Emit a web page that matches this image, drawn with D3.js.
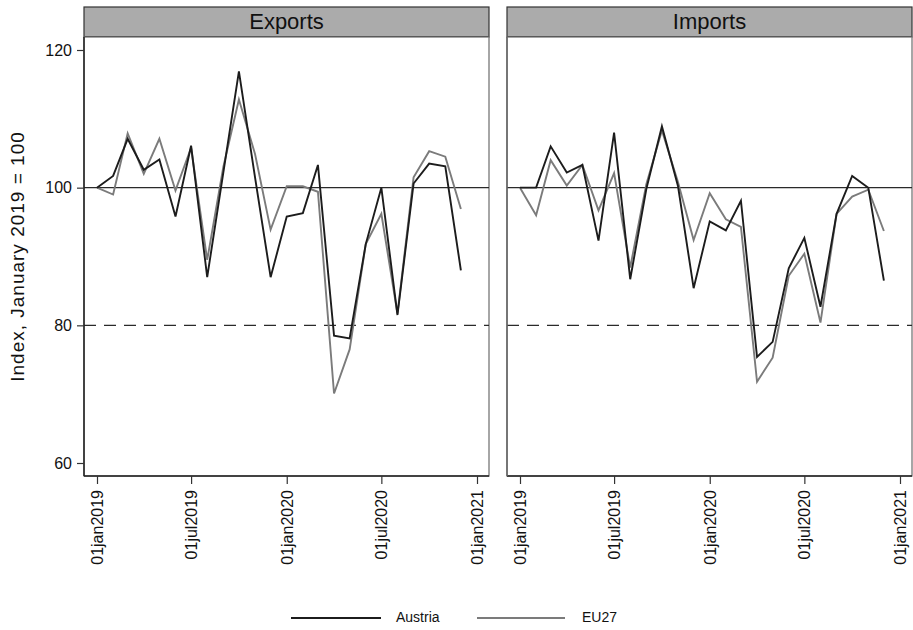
<!DOCTYPE html>
<html>
<head>
<meta charset="utf-8">
<script src="https://cdn.jsdelivr.net/npm/d3@7/dist/d3.min.js"></script>
<style>
  body { margin: 0; background: #fff; }
  svg { display: block; font-family: "Liberation Sans", Arial, sans-serif; }
</style>
</head>
<body>
<svg id="chart" width="913" height="630"></svg>
<script>
// ---------- DATA ----------
const months = ["2019-01","2019-02","2019-03","2019-04","2019-05","2019-06","2019-07","2019-08","2019-09","2019-10","2019-11","2019-12",
                "2020-01","2020-02","2020-03","2020-04","2020-05","2020-06","2020-07","2020-08","2020-09","2020-10","2020-11","2020-12"];
const panels = ["Exports", "Imports"];
const seriesNames = ["Austria", "EU27"];
const exportsAustria = [100, 101.7, 107.1, 102.6, 104.1, 95.8, 106.1, 87.0, 102.2, 116.9, 101.5, 87.0,
                        95.8, 96.3, 103.3, 78.5, 78.1, 91.8, 100.0, 81.5, 100.6, 103.5, 103.1, 88.0];
const exportsEU27    = [100, 99.0, 107.9, 102.0, 107.1, 99.6, 105.8, 89.5, 103.0, 112.8, 104.9, 93.9,
                        100.2, 100.2, 99.4, 70.1, 76.5, 91.8, 96.2, 81.7, 101.5, 105.3, 104.5, 96.9];
const importsAustria = [100, 100.0, 106.0, 102.2, 103.3, 92.3, 108.0, 86.7, 99.8, 108.9, 100.2, 85.4,
                        95.1, 93.8, 98.1, 75.4, 77.6, 88.3, 92.7, 82.7, 96.2, 101.7, 100.0, 86.5];
const importsEU27    = [100, 96.0, 104.0, 100.3, 103.3, 96.7, 102.1, 88.4, 100.5, 108.3, 100.8, 92.4,
                        99.2, 95.4, 94.3, 71.8, 75.3, 87.2, 90.4, 80.4, 96.2, 98.7, 99.7, 93.7];
const yTicks = [60, 80, 100, 120];
const xTickDates = ["2019-01-01", "2019-07-01", "2020-01-01", "2020-07-01", "2021-01-01"];
const xTickLabels = ["01jan2019", "01jul2019", "01jan2020", "01jul2020", "01jan2021"];
const refLines = [100, 80];
const yTitle = "Index, January 2019 = 100";

// ---------- LAYOUT ----------
const svg = d3.select("#chart");
const panelX = [84, 507];
const panelW = 405;
const headerTop = 7, plotTop = 37, plotBottom = 476;
const colors = { Austria: "#1c1c1c", EU27: "#7b7b7b" };

const parse = d3.timeParse("%Y-%m");
const parseDay = d3.timeParse("%Y-%m-%d");
const dates = months.map(parse);

const x = d3.scaleTime()
  .domain([parseDay("2019-01-01"), parseDay("2021-01-01")])
  .range([13, 393]);
const y = d3.scaleLinear()
  .domain([60, 120])
  .range([463, 50]);

const data = {
  Exports: { Austria: exportsAustria, EU27: exportsEU27 },
  Imports: { Austria: importsAustria, EU27: importsEU27 }
};

panels.forEach((name, pi) => {
  const g = svg.append("g").attr("transform", `translate(${panelX[pi]},0)`);

  // header strip
  g.append("rect")
    .attr("x", 0).attr("y", headerTop)
    .attr("width", panelW).attr("height", plotTop - headerTop)
    .attr("fill", "#ababab").attr("stroke", "#333").attr("stroke-width", 1.2);
  g.append("line")
    .attr("x1", 0).attr("x2", panelW).attr("y1", plotTop).attr("y2", plotTop)
    .attr("stroke", "#222").attr("stroke-width", 2);
  g.append("text")
    .attr("x", panelW / 2).attr("y", (headerTop + plotTop) / 2 + 1)
    .attr("text-anchor", "middle").attr("dominant-baseline", "middle")
    .attr("font-size", 22).attr("fill", "#111")
    .text(name);

  // plot region outline
  g.append("rect")
    .attr("x", 0).attr("y", plotTop)
    .attr("width", panelW).attr("height", plotBottom - plotTop)
    .attr("fill", "#fff").attr("stroke", "#777").attr("stroke-width", 1.3);

  // reference lines
  g.append("line")
    .attr("x1", 0).attr("x2", panelW)
    .attr("y1", y(refLines[0])).attr("y2", y(refLines[0]))
    .attr("stroke", "#2a2a2a").attr("stroke-width", 1.3);
  g.append("line")
    .attr("x1", 0).attr("x2", panelW)
    .attr("y1", y(refLines[1])).attr("y2", y(refLines[1]))
    .attr("stroke", "#2a2a2a").attr("stroke-width", 1.3)
    .attr("stroke-dasharray", "12,8");

  // series lines
  const line = d3.line().x((d, i) => x(dates[i])).y(d => y(d));
  ["EU27", "Austria"].forEach(s => {
    g.append("path")
      .datum(data[name][s])
      .attr("d", line)
      .attr("fill", "none")
      .attr("stroke", colors[s])
      .attr("stroke-width", 1.9)
      .attr("stroke-linejoin", "miter");
  });

  // x axis
  const xAxis = d3.axisBottom(x)
    .tickValues(xTickDates.map(parseDay))
    .tickFormat((d, i) => xTickLabels[i])
    .tickSize(8).tickPadding(4);
  const xg = g.append("g").attr("transform", `translate(0,${plotBottom})`).call(xAxis);
  xg.select(".domain").attr("d", `M0,0H${panelW}`).attr("stroke", "#222").attr("stroke-width", 1.5);
  xg.selectAll(".tick line").attr("stroke", "#333").attr("stroke-width", 1.2);
  xg.selectAll(".tick text")
    .attr("font-size", 16).attr("fill", "#111")
    .attr("text-anchor", "end")
    .attr("transform", "translate(0,14) rotate(-90)")
    .attr("x", 0).attr("y", 0).attr("dy", "0.35em");

  if (pi === 0) {
    const yAxis = d3.axisLeft(y).tickValues(yTicks).tickSize(7).tickPadding(5);
    const yg = g.append("g").call(yAxis);
    yg.select(".domain").attr("d", `M0,${plotTop}V${plotBottom}`).attr("stroke", "#222").attr("stroke-width", 1.5);
    yg.selectAll(".tick line").attr("stroke", "#333").attr("stroke-width", 1.2);
    yg.selectAll(".tick text").attr("font-size", 16).attr("fill", "#111");
  } else {
    g.append("line")
      .attr("x1", 0).attr("x2", 0).attr("y1", plotTop).attr("y2", plotBottom)
      .attr("stroke", "#666").attr("stroke-width", 1.5);
  }
});

// y axis title
svg.append("text")
  .attr("transform", `translate(24,${(plotTop + plotBottom) / 2}) rotate(-90)`)
  .attr("text-anchor", "middle")
  .attr("font-size", 19).attr("fill", "#111")
  .attr("letter-spacing", 1)
  .text(yTitle);

// legend
const legendItems = [
  { name: seriesNames[0], x1: 291, x2: 381, tx: 396 },
  { name: seriesNames[1], x1: 477, x2: 565, tx: 582 }
];
const legendY = 618;
legendItems.forEach(it => {
  svg.append("line")
    .attr("x1", it.x1).attr("x2", it.x2).attr("y1", legendY).attr("y2", legendY)
    .attr("stroke", colors[it.name]).attr("stroke-width", 2);
  svg.append("text")
    .attr("x", it.tx).attr("y", legendY)
    .attr("dominant-baseline", "middle")
    .attr("font-size", 14).attr("fill", "#111")
    .text(it.name);
});
</script>
</body>
</html>
